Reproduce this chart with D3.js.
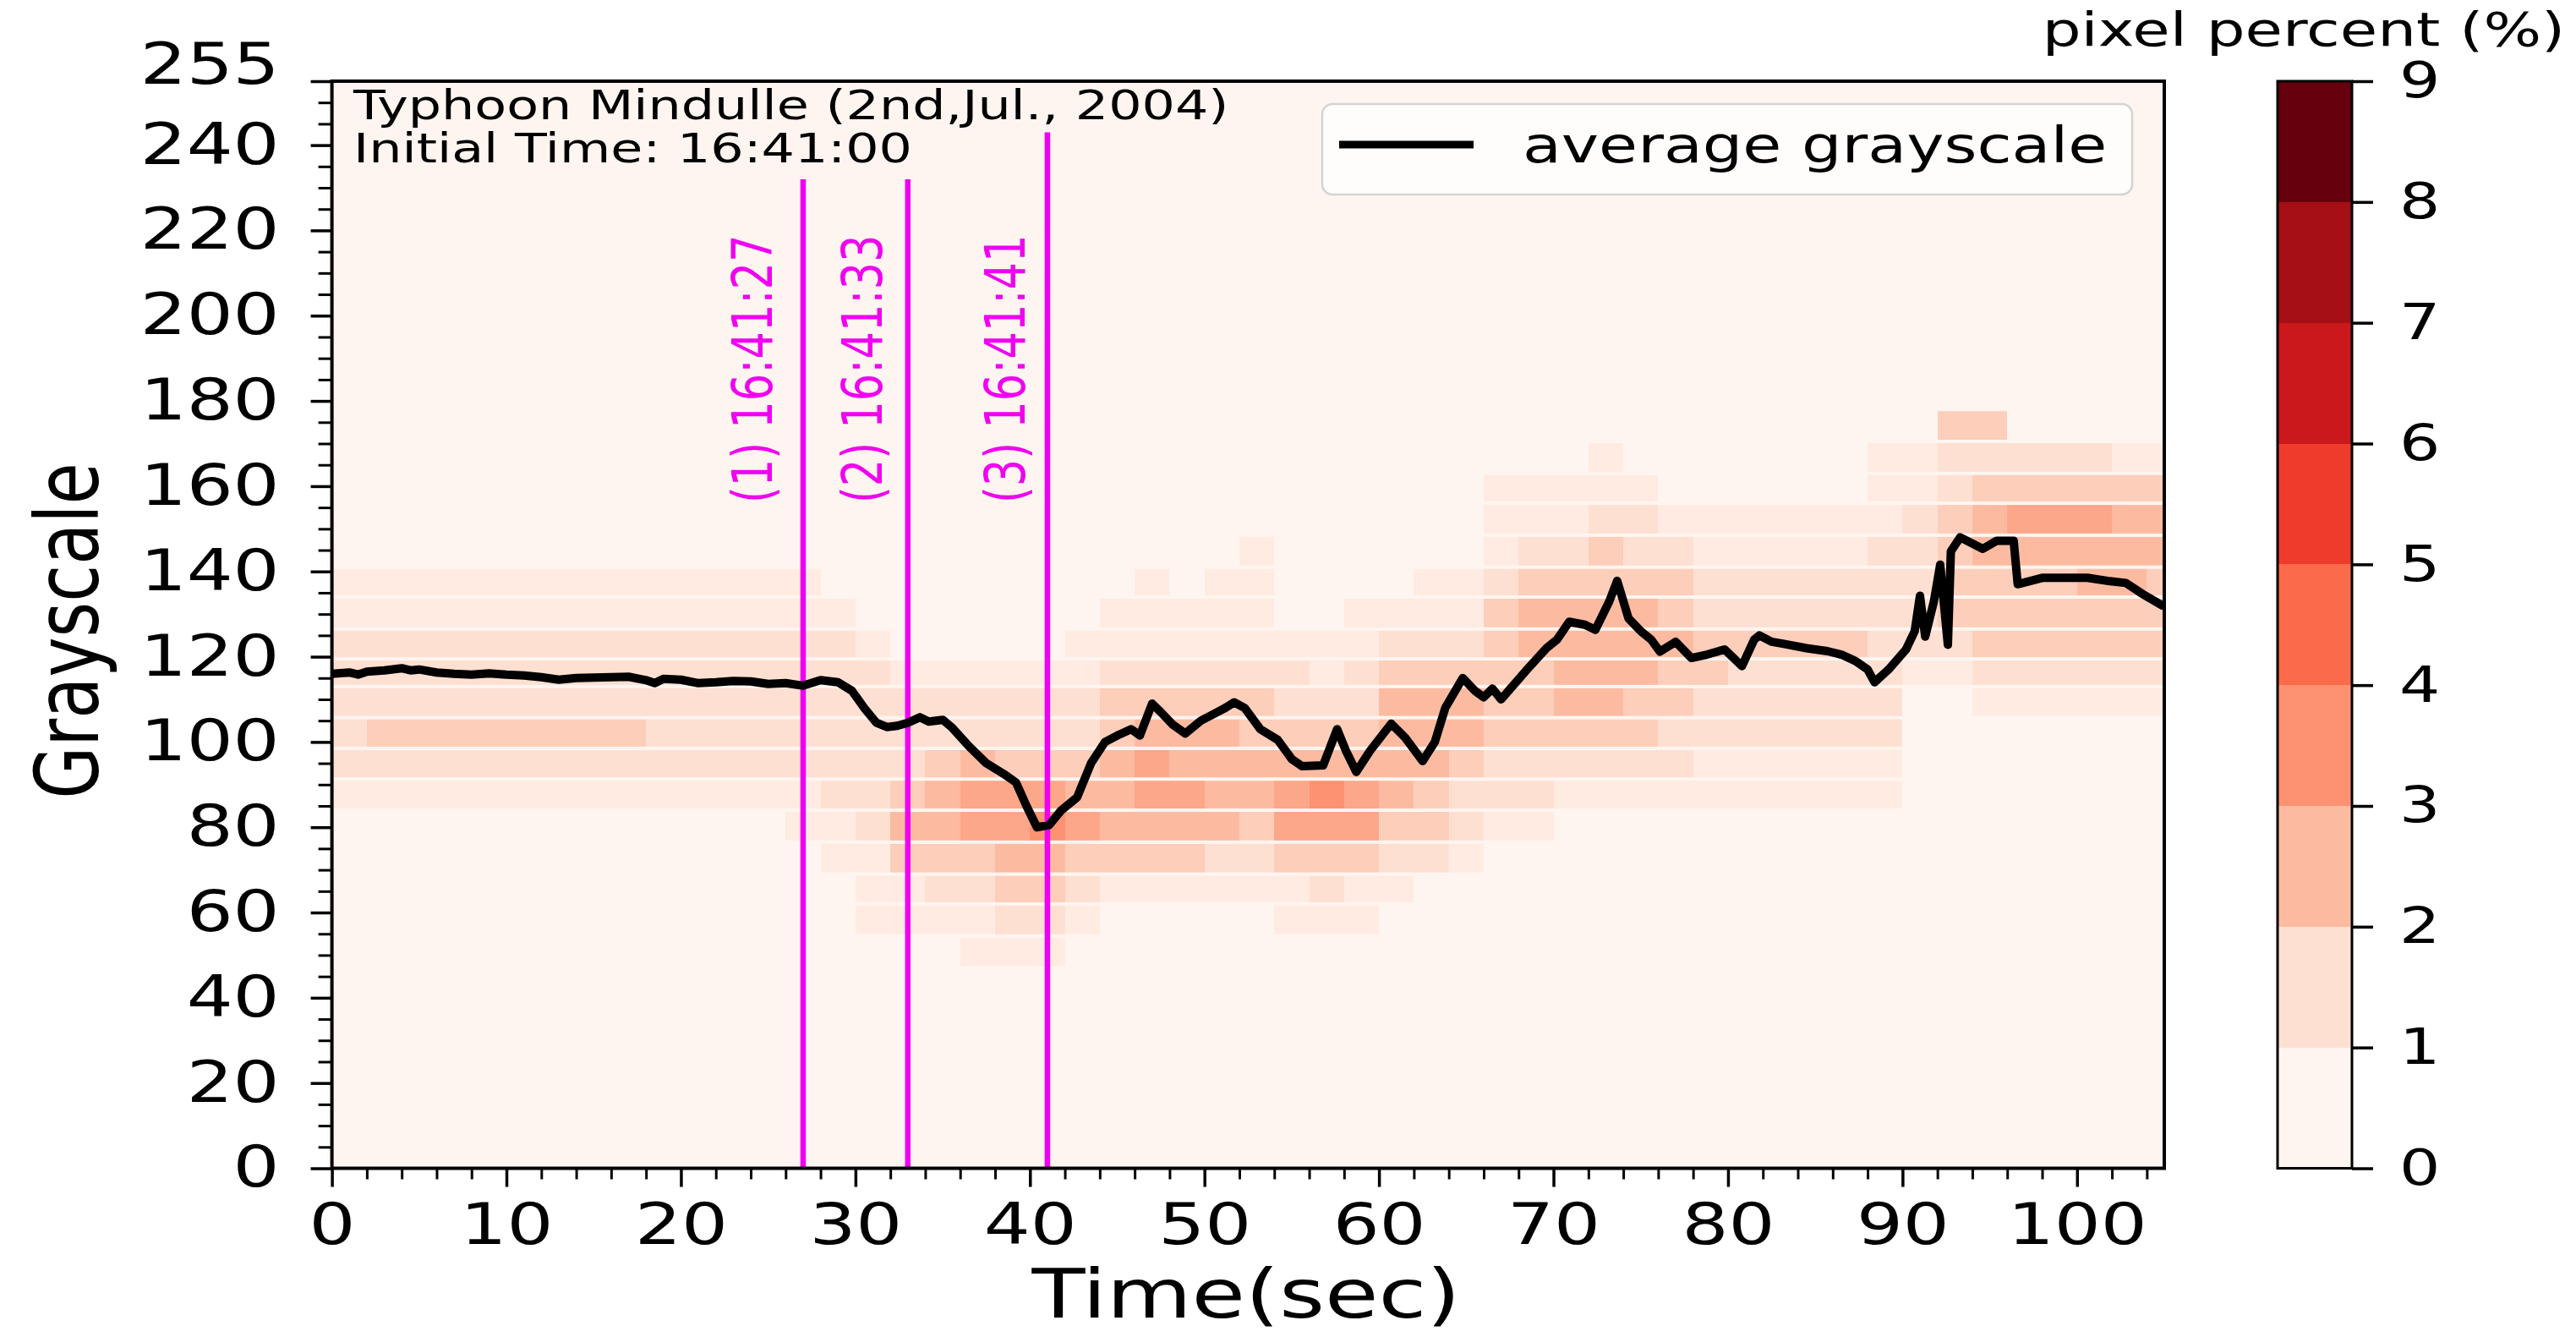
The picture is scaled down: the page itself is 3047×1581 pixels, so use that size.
<!DOCTYPE html>
<html>
<head>
<meta charset="utf-8">
<script src="https://cdn.jsdelivr.net/npm/d3@7"></script>
<style>
  body { margin: 0; background: #fff; }
  svg { display: block; font-family: "DejaVu Sans", sans-serif; }
</style>
</head>
<body>
<script>
/* Picture size and plot box (px) */
var width = 3047;
var height = 1581;
var plotL = 392.6, plotR = 2560, plotT = 96, plotB = 1381.5;
var barL = 2694, barR = 2782;

/* the source figure is stretched sideways, so all text is widened */
var sx = 1.29;

/* Axis ticks */
var timeTicks = [0, 10, 20, 30, 40, 50, 60, 70, 80, 90, 100];
var grayTicks = [0, 20, 40, 60, 80, 100, 120, 140, 160, 180, 200, 220, 240, 255];
var pctTicks = [0, 1, 2, 3, 4, 5, 6, 7, 8, 9];

/* Marked moments */
var markTimes = [27, 33, 41];
var markTops = [232, 232, 243];
var markLabels = ["(1) 16:41:27", "(2) 16:41:33", "(3) 16:41:41"];
var markLabelAt = [25.2, 31.5, 39.7];

/* average grayscale, [sec, grayscale] */
var avgGray = [
  [0,116],[1,116.3],[1.5,115.8],[2,116.5],[3,116.8],[4,117.3],[4.5,116.8],[5,117],[6,116.3],
  [7,116],[8,115.8],[9,116.1],[10,115.8],[11,115.6],[12,115.2],[13,114.6],[14,115],[15,115.1],
  [16,115.2],[17,115.3],[18,114.5],[18.5,113.8],[19,114.8],[20,114.6],[21,113.8],[22,114],
  [23,114.3],[24,114.2],[25,113.6],[26,113.8],[27,113.2],
  [28,114.5],[29,114],[29.8,112],[30.5,108],[31.2,104.5],[31.8,103.5],[32.4,103.8],
  [33,104.5],[33.7,105.8],[34.2,104.8],[35,105.2],[35.5,103.5],[36.5,99],[37.5,95],
  [38.5,92.5],[39.2,90.5],[39.8,85],[40.4,80],[41.1,80.5],[41.8,84],[42.7,87],[43.5,95],
  [44.3,100],[45,101.5],[45.8,103],[46.3,101.5],[47,109],[47.5,107],[48.2,104],[48.9,102],
  [49.8,105],[50.5,106.5],[51.2,108],[51.7,109.3],[52.3,108],[53.2,103],[54.2,100.5],
  [55,96],[55.6,94.3],[56.8,94.5],[57.6,103],[58.1,98],[58.7,93],[59.5,98],[60.7,104.3],
  [61.5,101],[62.5,95.5],[63.2,100],[63.8,108],[64.8,115],[65.5,112],[66,110.5],
  [66.5,112.5],[67,110],[68.4,116.6],[69.6,122],[70.2,124],[70.9,128.2],[71.8,127.5],
  [72.4,126.3],[73.2,133],[73.65,137.8],[74.3,129],[75,126],[75.6,124],[76.1,121.2],
  [77,123.5],[77.9,119.7],[78.8,120.5],[79.8,121.7],[80.8,117.8],[81.5,124],[81.8,125],
  [82.5,123.5],[83.2,123],[84.5,122],[85.7,121.3],[86.5,120.5],[87.3,119],[88,117],
  [88.4,114],[89.2,117],[90.2,121.7],[90.7,126],[91,134.3],[91.3,124.7],[91.8,133],
  [92.16,141.6],[92.6,122.8],[92.77,144.7],[93.3,148],[94.6,145.3],[95.4,147.2],
  [96.37,147.2],[96.6,137],[98,138.5],[100.6,138.5],[101.9,137.7],[102.8,137.3],
  [103.8,134.6],[104.9,132],[105,132]
];

/* Histogram rows: grayscale bin edges (the thin empty rows sit on them) */
var grayBins = [47, 54.5, 62, 69, 76.5, 84, 91.3, 98.5, 105.7, 113, 119.5, 126.5,
                134, 141, 148.5, 156, 163, 170.5, 178];

/* Histogram columns, 2 sec each; one char per row from the bottom,
   value = pixel percent x 2 */
var histStep = 2;
var histHalfPct = [
  "000001222221100000", "000001232221100000", "000001232221100000", "000001232221100000",
  "000001232221100000", "000001232221100000", "000001232221100000", "000001232221100000",
  "000001232221100000", "000001222221100000", "000001222221100000", "000001222221100000",
  "000001222221100000", "000011222221100000", "000112222221000000", "011122222210000000",
  "011343222100000000", "012344322100000000", "112355422100000000", "123455322100000000",
  "123465322100000000", "012354322110000000", "001344433211000000", "001345543211100000",
  "001345443211000000", "001244443211100000", "001234433211110000", "011355432210000000",
  "012356432110000000", "011355432211000000", "001234444321000000", "000233444321100000",
  "000122344321100000", "000012233333211100", "000012233344321100", "000001234444321100",
  "000001234444332110", "000001233444322100", "000001223343321000", "000001122332211000",
  "000001122232211000", "000001122232211000", "000001122232211000", "000001122232211000",
  "000001122222221110", "000000000122222110", "000000000123333223", "000000001233344323",
  "000000001233345320", "000000001233345320", "000000001233445320", "000000001233444310",
  "000000001233344310"
];

var reds = d3.schemeReds[9];
var magenta = "#f000f0";

/* Scales */
var x = d3.scaleLinear().domain([0, 105]).range([plotL, plotR]);
var y = d3.scaleLinear().domain([0, 255]).range([plotB, plotT]);
var cbar = d3.scaleLinear().domain([0, 9]).range([plotB, plotT]);
var color = d3.scaleLinear().domain(d3.range(9)).range(reds);

var svg = d3.select("body").append("svg")
  .attr("width", width)
  .attr("height", height);

svg.append("rect").attr("width", width).attr("height", height).attr("fill", "#fff");

svg.append("clipPath").attr("id", "plotClip")
  .append("rect")
  .attr("x", plotL).attr("y", plotT)
  .attr("width", plotR - plotL).attr("height", plotB - plotT);

var plot = svg.append("g").attr("clip-path", "url(#plotClip)");

/* plot background = lowest colour level */
plot.append("rect")
  .attr("x", plotL).attr("y", plotT)
  .attr("width", plotR - plotL).attr("height", plotB - plotT)
  .attr("fill", reds[0]);

/* heatmap cells */
var cells = [];
histHalfPct.forEach(function(col, i) {
  for (var r = 0; r < col.length; r++) {
    var v = +col[r] / 2;
    if (v > 0) cells.push({t: i * histStep, lo: grayBins[r], hi: grayBins[r + 1], v: v});
  }
});

plot.selectAll(".cell")
  .data(cells)
  .enter()
  .append("rect")
  .attr("class", "cell")
  .attr("x", function(d) { return x(d.t); })
  .attr("width", function(d) { return x(d.t + histStep) - x(d.t); })
  .attr("y", function(d) { return y(d.hi); })
  .attr("height", function(d) { return y(d.lo) - y(d.hi); })
  .attr("fill", function(d) { return color(d.v); })
  .attr("shape-rendering", "crispEdges");

/* empty grayscale rows between bins */
plot.selectAll(".gap")
  .data(grayBins)
  .enter()
  .append("rect")
  .attr("class", "gap")
  .attr("x", plotL)
  .attr("width", plotR - plotL)
  .attr("y", function(d) { return y(d) - 2; })
  .attr("height", 4)
  .attr("fill", reds[0]);

/* marked moments */
plot.selectAll(".mark")
  .data(markTimes)
  .enter()
  .append("line")
  .attr("class", "mark")
  .attr("x1", function(d) { return x(d); })
  .attr("x2", function(d) { return x(d); })
  .attr("y1", y(0))
  .attr("y2", function(d, i) { return y(markTops[i]); })
  .attr("stroke", magenta)
  .attr("stroke-width", 6.5);

/* average grayscale line */
plot.append("path")
  .datum(avgGray)
  .attr("d", d3.line()
    .x(function(d) { return x(d[0]); })
    .y(function(d) { return y(d[1]); }))
  .attr("fill", "none")
  .attr("stroke", "#000")
  .attr("stroke-width", 10)
  .attr("stroke-linejoin", "round");

/* helper: text widened like the source */
function addText(parent, txt, px, py, size, anchor, rotate) {
  return parent.append("text")
    .attr("transform", "translate(" + px + "," + py + ") scale(" + sx + ",1)" + (rotate ? " rotate(-90)" : ""))
    .attr("font-size", size)
    .attr("text-anchor", anchor)
    .text(txt);
}

function stretchTicks(g, size, shift) {
  g.attr("font-family", null).attr("font-size", size);
  g.selectAll(".tick text").each(function(d) {
    var t = d3.select(this);
    var tx = +t.attr("x") || 0;
    var ty = +t.attr("y") || 0;
    if (shift) ty += shift(d);
    t.attr("x", null).attr("y", null)
      .attr("fill", "#000")
      .attr("transform", "translate(" + tx + "," + ty + ") scale(" + sx + ",1)");
  });
  g.selectAll(".tick line").attr("stroke", "#000");
}

/* marked moment labels */
markLabels.forEach(function(lbl, i) {
  addText(svg, lbl, x(markLabelAt[i]), y(156), 51, "start", true).attr("fill", magenta);
});

/* frame */
svg.append("rect")
  .attr("x", plotL).attr("y", plotT)
  .attr("width", plotR - plotL).attr("height", plotB - plotT)
  .attr("fill", "none").attr("stroke", "#000").attr("stroke-width", 4);

/* Y axis */
var gyMinor = svg.append("g")
  .attr("transform", "translate(" + plotL + ",0)")
  .call(d3.axisLeft(y)
    .tickValues(d3.range(0, 255, 5).filter(function(v) { return v % 20 !== 0; }))
    .tickSize(16).tickFormat(""));
gyMinor.select(".domain").remove();
gyMinor.selectAll("line").attr("stroke", "#000").attr("stroke-width", 3);

var gy = svg.append("g")
  .attr("transform", "translate(" + plotL + ",0)")
  .call(d3.axisLeft(y).tickValues(grayTicks).tickSize(25).tickPadding(37));
gy.select(".domain").remove();
gy.selectAll("line").attr("stroke-width", 3.5);
stretchTicks(gy, 67, function(d) { return d === 255 ? -19 : 0; });

/* X axis */
var gxMinor = svg.append("g")
  .attr("transform", "translate(0," + plotB + ")")
  .call(d3.axisBottom(x)
    .tickValues(d3.range(0, 106, 2).filter(function(v) { return v % 10 !== 0; }))
    .tickSize(13).tickFormat(""));
gxMinor.select(".domain").remove();
gxMinor.selectAll("line").attr("stroke", "#000").attr("stroke-width", 3);

var gx = svg.append("g")
  .attr("transform", "translate(0," + plotB + ")")
  .call(d3.axisBottom(x).tickValues(timeTicks).tickSize(22).tickPadding(20));
gx.select(".domain").remove();
gx.selectAll("line").attr("stroke-width", 3.5);
stretchTicks(gx, 67);

/* Axis titles */
addText(svg, "Grayscale", 116, 746, 80, "middle", true);
addText(svg, "Time(sec)", 1474, 1558, 80, "middle", false);

/* annotation */
addText(svg, "Typhoon Mindulle (2nd,Jul., 2004)", 418, 141, 48, "start", false);
addText(svg, "Initial Time: 16:41:00", 418, 192, 48, "start", false);

/* legend */
svg.append("rect")
  .attr("x", 1564).attr("y", 123)
  .attr("width", 958).attr("height", 107)
  .attr("rx", 12)
  .attr("fill", "#fff").attr("fill-opacity", 0.8)
  .attr("stroke", "#d4d4d4").attr("stroke-width", 2.5);
svg.append("line")
  .attr("x1", 1584).attr("x2", 1743)
  .attr("y1", 171).attr("y2", 171)
  .attr("stroke", "#000").attr("stroke-width", 9);
addText(svg, "average grayscale", 1801, 192, 58, "start", false);

/* Colour bar */
svg.selectAll(".level")
  .data(d3.range(9))
  .enter()
  .append("rect")
  .attr("class", "level")
  .attr("x", barL)
  .attr("width", barR - barL)
  .attr("y", function(d) { return cbar(d + 1); })
  .attr("height", function(d) { return cbar(d) - cbar(d + 1); })
  .attr("fill", function(d) { return reds[d]; })
  .attr("shape-rendering", "crispEdges");

svg.append("rect")
  .attr("x", barL).attr("y", plotT)
  .attr("width", barR - barL).attr("height", plotB - plotT)
  .attr("fill", "none").attr("stroke", "#000").attr("stroke-width", 3);

var gc = svg.append("g")
  .attr("transform", "translate(" + barR + ",0)")
  .call(d3.axisRight(cbar).tickValues(pctTicks).tickSize(25).tickPadding(31));
gc.select(".domain").remove();
gc.selectAll("line").attr("stroke-width", 3.5);
stretchTicks(gc, 59);

addText(svg, "pixel percent (%)", 2725, 54, 56, "middle", false);
</script>
</body>
</html>
